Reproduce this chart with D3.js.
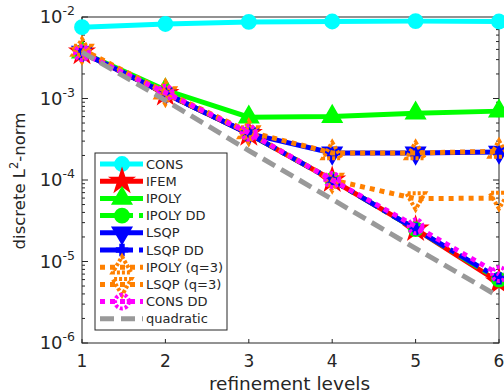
<!DOCTYPE html>
<html>
<head>
<meta charset="utf-8">
<script src="https://cdn.jsdelivr.net/npm/d3@7"></script>
<style>
  body { margin: 0; background: #fff; }
  text { font-family: "DejaVu Sans", sans-serif; fill: #262626; }
</style>
</head>
<body>
<svg width="504" height="391"></svg>
<script>
const levels = [1, 2, 3, 4, 5, 6];
const consVals    = [7.5e-3, 8.2e-3, 8.7e-3, 8.8e-3, 8.9e-3, 8.8e-3];
const ifemVals    = [3.7e-3, 1.15e-3, 3.7e-4, 1.0e-4, 2.5e-5, 5.6e-6];
const ipolyVals   = [3.7e-3, 1.27e-3, 5.9e-4, 6.0e-4, 6.6e-4, 7.0e-4];
const ipolyDDVals = [3.7e-3, 1.16e-3, 3.7e-4, 1.0e-4, 2.5e-5, 6.0e-6];
const lsqpVals    = [3.7e-3, 1.15e-3, 3.7e-4, 2.15e-4, 2.15e-4, 2.2e-4];
const lsqpDDVals  = [3.7e-3, 1.15e-3, 3.7e-4, 1.0e-4, 2.5e-5, 6.2e-6];
const ipolyQ3Vals = [4.0e-3, 1.2e-3, 3.9e-4, 2.15e-4, 2.15e-4, 2.25e-4];
const lsqpQ3Vals  = [3.8e-3, 1.15e-3, 3.8e-4, 1.0e-4, 5.9e-5, 6.0e-5];
const consDDVals  = [3.6e-3, 1.18e-3, 3.8e-4, 1.0e-4, 2.7e-5, 7.0e-6];
const quadVals    = [3.7e-3, 9.5e-4, 2.3e-4, 5.8e-5, 1.45e-5, 3.7e-6];
const yTickExps = [-6, -5, -4, -3, -2];

const series = [
  { name: "CONS", vals: consVals, color: "#00ffff", dash: null, marker: "circle", fill: true },
  { name: "IFEM", vals: ifemVals, color: "#ff0000", dash: null, marker: "star", fill: true },
  { name: "IPOLY", vals: ipolyVals, color: "#00ff00", dash: null, marker: "up", fill: true },
  { name: "IPOLY DD", vals: ipolyDDVals, color: "#00ff00", dash: "22,6,5,6", marker: "circle", fill: true },
  { name: "LSQP", vals: lsqpVals, color: "#0000ff", dash: null, marker: "down", fill: true },
  { name: "LSQP DD", vals: lsqpDDVals, color: "#0000ff", dash: "22,6,5,6", marker: "plus", fill: true },
  { name: "IPOLY (q=3)", vals: ipolyQ3Vals, color: "#ff8000", dash: "5,5", marker: "up", fill: false },
  { name: "LSQP (q=3)", vals: lsqpQ3Vals, color: "#ff8000", dash: "5,5", marker: "down", fill: false },
  { name: "CONS DD", vals: consDDVals, color: "#ff00ff", dash: "5,5", marker: "circle", fill: false },
  { name: "quadratic", vals: quadVals, color: "#999999", dash: "14,7", marker: null, fill: false }
];

const svg = d3.select("svg");
const margin = { top: 17, right: 5, bottom: 48, left: 82 };
const innerWidth = 504 - margin.left - margin.right;
const innerHeight = 391 - margin.top - margin.bottom;

const xScale = d3.scaleLinear().domain([1, 6]).range([0, innerWidth]);
const yScale = d3.scaleLog().domain([1e-6, 1e-2]).range([innerHeight, 0]);

const g = svg.append("g").attr("transform", `translate(${margin.left},${margin.top})`);

// box
g.append("rect").attr("width", innerWidth).attr("height", innerHeight)
  .attr("fill", "none").attr("stroke", "#262626").attr("stroke-width", 1);

// x ticks
levels.forEach(v => {
  const x = xScale(v);
  g.append("line").attr("x1", x).attr("x2", x).attr("y1", innerHeight).attr("y2", innerHeight - 4).attr("stroke", "#262626");
  g.append("line").attr("x1", x).attr("x2", x).attr("y1", 0).attr("y2", 4).attr("stroke", "#262626");
  g.append("text").attr("x", x).attr("y", innerHeight + 24).attr("text-anchor", "middle")
    .style("font-size", "17px").text(v);
});

// y ticks, minor ticks
const minor = [];
for (let e = -6; e < -2; e++) for (let m = 2; m <= 9; m++) minor.push(m * Math.pow(10, e));
minor.forEach(v => {
  const y = yScale(v);
  g.append("line").attr("x1", 0).attr("x2", 3).attr("y1", y).attr("y2", y).attr("stroke", "#262626");
  g.append("line").attr("x1", innerWidth).attr("x2", innerWidth - 3).attr("y1", y).attr("y2", y).attr("stroke", "#262626");
});
yTickExps.forEach(e => {
  const y = yScale(Math.pow(10, e));
  g.append("line").attr("x1", 0).attr("x2", 6).attr("y1", y).attr("y2", y).attr("stroke", "#262626");
  g.append("line").attr("x1", innerWidth).attr("x2", innerWidth - 6).attr("y1", y).attr("y2", y).attr("stroke", "#262626");
  const t = g.append("text").attr("x", -7).attr("y", y + 6).attr("text-anchor", "end").style("font-size", "18px");
  t.append("tspan").text("10");
  t.append("tspan").attr("dy", -8).style("font-size", "12.5px").text(e);
});

// axis labels
g.append("text").attr("x", innerWidth / 2 - 1).attr("y", innerHeight + 47).attr("text-anchor", "middle")
  .style("font-size", "18.5px").text("refinement levels");
const yl = g.append("text").attr("transform", `translate(-57,${innerHeight / 2 + 1}) rotate(-90)`)
  .attr("text-anchor", "middle").style("font-size", "16.5px");
yl.append("tspan").text("discrete L");
yl.append("tspan").attr("dy", -7).style("font-size", "11.5px").text("2");
yl.append("tspan").attr("dy", 7).text("-norm");

// symbols
function markerPath(type) {
  if (type === "circle") return d3.symbol(d3.symbolCircle, 150)();
  if (type === "up") return d3.symbol(d3.symbolTriangle, 150)();
  if (type === "down") return d3.symbol(d3.symbolTriangle, 150)();
  if (type === "star") return d3.symbol(d3.symbolStar, 150)();
  if (type === "plus") return d3.symbol(d3.symbolCross, 60)();
  return null;
}
function drawMarker(sel, s, x, y) {
  const p = sel.append("path").attr("d", markerPath(s.marker))
    .attr("transform", `translate(${x},${y})` + (s.marker === "down" ? " rotate(180)" : ""))
    .attr("fill", s.fill ? s.color : "none")
    .attr("stroke", s.color).attr("stroke-width", s.fill ? 2 : 4);
  if (!s.fill && s.dash) p.attr("stroke-dasharray", "3,2");
}

const line = d3.line().x((d, i) => xScale(levels[i])).y(d => yScale(d));
const plot = g.append("g");
series.forEach(s => {
  plot.append("path").datum(s.vals).attr("d", line).attr("fill", "none")
    .attr("stroke", s.color).attr("stroke-width", 5)
    .attr("stroke-dasharray", s.dash);
  if (s.marker) s.vals.forEach((v, i) => drawMarker(plot, s, xScale(levels[i]), yScale(v)));
});

// legend
const lg = svg.append("g").attr("transform", "translate(95,153)");
lg.append("rect").attr("width", 132).attr("height", 177).attr("fill", "#fff").attr("stroke", "#262626");
series.forEach((s, i) => {
  const y = 11 + i * 17.2;
  lg.append("line").attr("x1", 5).attr("x2", 48).attr("y1", y).attr("y2", y)
    .attr("stroke", s.color).attr("stroke-width", 5).attr("stroke-dasharray", s.dash);
  if (s.marker) drawMarker(lg, s, 27, y);
  lg.append("text").attr("x", 51).attr("y", y + 4.5).style("font-size", "13px").text(s.name);
});
</script>
</body>
</html>
